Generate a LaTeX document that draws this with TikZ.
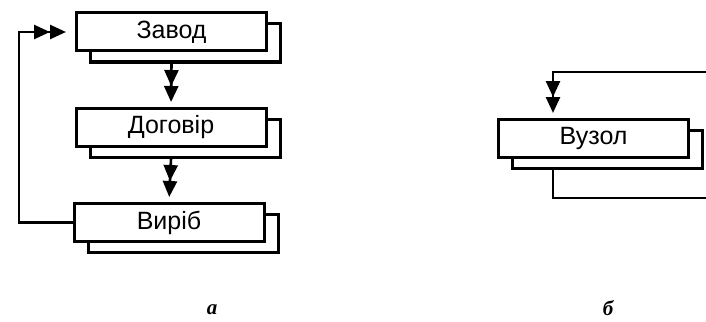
\documentclass[tikz,border=0pt]{standalone}
\usepackage{fontspec}
\setmainfont{Liberation Sans}
\newfontfamily\lblfont{Liberation Serif}
\usetikzlibrary{arrows.meta,shadows,calc}
\tikzset{
  blk/.style={draw=black, line width=3pt, fill=white, minimum width=190pt, minimum height=38pt,
    inner sep=0pt, font=\fontsize{25}{29}\selectfont,
    copy shadow={shadow xshift=14pt, shadow yshift=-11pt, draw=black, line width=3pt, fill=white}},
  conn/.style={line width=2.6pt, line join=miter},
  dbl/.style={-{Triangle[length=16pt,width=14pt]Triangle[length=16pt,width=14pt]}},
  lbl/.style={font=\lblfont\bfseries\itshape\fontsize{21}{25}\selectfont, inner sep=0pt}
}
\begin{document}
\begin{tikzpicture}[x=1pt,y=-1pt]
\useasboundingbox (0,0) rectangle (706,321);
% part a
\node[blk] (zavod) at (171.5,32) {Завод};
\node[blk] (dogovir) at (171,127.5) {Договір};
\node[blk] (vyrib) at (169,222.5) {Виріб};
\draw[conn,dbl,shorten >=5pt] ([yshift=-11pt]zavod.south) -- (dogovir.north);
\draw[conn,dbl,shorten >=5pt] ([yshift=-11pt]dogovir.south) -- (vyrib.north);
\coordinate (lp) at (19,32);
\draw[conn,dbl,shorten >=9pt] (vyrib.west) -| (lp) -- (zavod.west);
% part b
\node[blk] (vuzol) at (593.5,138.5) {Вузол};
\coordinate (e1) at (706,72);
\coordinate (e2) at (706,198);
\draw[conn,dbl,shorten >=5pt] (e1) -| ([xshift=56pt]vuzol.north west);
\draw[conn] ([xshift=56pt,yshift=-11pt]vuzol.south west) |- (e2);
% labels
\node[lbl] (la) at (212,310) {а};
\node[lbl] (lb) at (608,308) {б};
\end{tikzpicture}
\end{document}
